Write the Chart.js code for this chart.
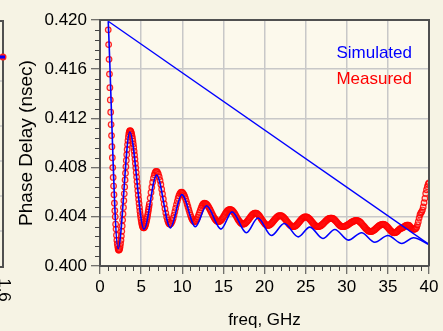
<!DOCTYPE html>
<html>
<head>
<meta charset="utf-8">
<script src="https://cdn.jsdelivr.net/npm/chart.js@4.4.1/dist/chart.umd.min.js"></script>
<style>
  html, body { margin: 0; padding: 0; background: #f6f3e4; }
</style>
</head>
<body>
<canvas id="phase" width="443" height="331"></canvas>
<script>
// simulated phase delay: turning points of the trace, freq in GHz, delay in nsec
const simFreq = [1.0, 2.2, 3.62, 5.35, 6.88, 8.55, 9.95, 11.6, 12.95, 14.7, 16.06, 17.8, 19.2,
  20.85, 22.4, 24.1, 25.5, 27.1, 28.55, 30.2, 31.8, 33.4, 35.0, 36.7, 38.1, 40.0]
const simDelay = [0.4199, 0.4014, 0.4109, 0.4030, 0.4074, 0.4031, 0.4058, 0.4032, 0.4049, 0.4030,
  0.4044, 0.4027, 0.4039, 0.40248, 0.40346, 0.40237, 0.40316, 0.40224, 0.40297, 0.40210,
  0.40270, 0.40193, 0.40248, 0.40183, 0.40230, 0.40175]

// measured sweep, 1.00 - 5.95 GHz every 0.05 GHz
const measFineStart = 1.0
const measFineStep = 0.05
const measDelayFine = [
  0.41920, 0.41800, 0.41680, 0.41560, 0.41450, 0.41350, 0.41250, 0.41150, 0.41060, 0.40970,
  0.40880, 0.40800, 0.40720, 0.40650, 0.40580, 0.40510, 0.40450, 0.40400, 0.40340, 0.40300,
  0.40250, 0.40210, 0.40180, 0.40160, 0.40140, 0.40130, 0.40130, 0.40133, 0.40143, 0.40159,
  0.40182, 0.40210, 0.40243, 0.40282, 0.40325, 0.40373, 0.40423, 0.40476, 0.40531, 0.40587,
  0.40643, 0.40699, 0.40754, 0.40807, 0.40858, 0.40905, 0.40948, 0.40987, 0.41020, 0.41048,
  0.41071, 0.41087, 0.41097, 0.41100, 0.41098, 0.41093, 0.41084, 0.41072, 0.41056, 0.41037,
  0.41016, 0.40991, 0.40964, 0.40934, 0.40903, 0.40869, 0.40834, 0.40798, 0.40761, 0.40724,
  0.40686, 0.40649, 0.40612, 0.40576, 0.40541, 0.40508, 0.40476, 0.40446, 0.40419, 0.40395,
  0.40373, 0.40354, 0.40338, 0.40326, 0.40317, 0.40312, 0.40310, 0.40311, 0.40315, 0.40321,
  0.40329, 0.40339, 0.40351, 0.40365, 0.40382, 0.40399, 0.40418, 0.40439, 0.40460, 0.40482
]

// measured sweep, 6.0 - 40.0 GHz every 0.1 GHz
const measCoarseStart = 6.0
const measCoarseStep = 0.1
const measDelayCoarse = [
  0.40505, 0.40552, 0.40598, 0.40641, 0.40681, 0.40714, 0.40741, 0.40759, 0.40769, 0.40769,
  0.40761, 0.40746, 0.40724, 0.40696, 0.40663, 0.40625, 0.40586, 0.40545, 0.40504, 0.40466,
  0.40430, 0.40399, 0.40374, 0.40355, 0.40344, 0.40340, 0.40343, 0.40353, 0.40368, 0.40389,
  0.40414, 0.40441, 0.40470, 0.40499, 0.40526, 0.40551, 0.40572, 0.40587, 0.40597, 0.40600,
  0.40598, 0.40591, 0.40580, 0.40565, 0.40547, 0.40526, 0.40503, 0.40480, 0.40457, 0.40434,
  0.40413, 0.40395, 0.40380, 0.40369, 0.40362, 0.40360, 0.40363, 0.40370, 0.40382, 0.40398,
  0.40416, 0.40435, 0.40454, 0.40472, 0.40488, 0.40500, 0.40507, 0.40510, 0.40509, 0.40505,
  0.40499, 0.40490, 0.40480, 0.40468, 0.40456, 0.40442, 0.40428, 0.40414, 0.40402, 0.40390,
  0.40380, 0.40371, 0.40365, 0.40361, 0.40360, 0.40361, 0.40365, 0.40371, 0.40379, 0.40388,
  0.40399, 0.40410, 0.40421, 0.40432, 0.40441, 0.40449, 0.40455, 0.40459, 0.40460, 0.40459,
  0.40455, 0.40450, 0.40442, 0.40433, 0.40423, 0.40412, 0.40400, 0.40388, 0.40377, 0.40367,
  0.40358, 0.40350, 0.40345, 0.40341, 0.40340, 0.40341, 0.40344, 0.40349, 0.40355, 0.40363,
  0.40371, 0.40380, 0.40390, 0.40399, 0.40408, 0.40415, 0.40421, 0.40426, 0.40429, 0.40430,
  0.40429, 0.40426, 0.40420, 0.40413, 0.40405, 0.40395, 0.40385, 0.40375, 0.40365, 0.40355,
  0.40347, 0.40340, 0.40335, 0.40331, 0.40330, 0.40331, 0.40333, 0.40338, 0.40343, 0.40350,
  0.40358, 0.40366, 0.40374, 0.40382, 0.40390, 0.40397, 0.40402, 0.40407, 0.40409, 0.40410,
  0.40409, 0.40407, 0.40402, 0.40397, 0.40390, 0.40382, 0.40374, 0.40365, 0.40356, 0.40348,
  0.40340, 0.40333, 0.40328, 0.40323, 0.40321, 0.40320, 0.40321, 0.40323, 0.40328, 0.40333,
  0.40340, 0.40348, 0.40356, 0.40364, 0.40372, 0.40380, 0.40387, 0.40392, 0.40397, 0.40399,
  0.40400, 0.40399, 0.40397, 0.40392, 0.40387, 0.40380, 0.40372, 0.40364, 0.40356, 0.40348,
  0.40340, 0.40333, 0.40328, 0.40323, 0.40321, 0.40320, 0.40321, 0.40323, 0.40326, 0.40330,
  0.40336, 0.40342, 0.40348, 0.40355, 0.40362, 0.40368, 0.40374, 0.40380, 0.40384, 0.40387,
  0.40389, 0.40390, 0.40389, 0.40387, 0.40382, 0.40377, 0.40370, 0.40363, 0.40355, 0.40347,
  0.40340, 0.40333, 0.40328, 0.40323, 0.40321, 0.40320, 0.40320, 0.40322, 0.40324, 0.40327,
  0.40330, 0.40334, 0.40338, 0.40343, 0.40347, 0.40352, 0.40356, 0.40360, 0.40363, 0.40366,
  0.40368, 0.40370, 0.40370, 0.40369, 0.40367, 0.40363, 0.40358, 0.40352, 0.40345, 0.40337,
  0.40329, 0.40321, 0.40313, 0.40305, 0.40298, 0.40292, 0.40287, 0.40283, 0.40281, 0.40280,
  0.40281, 0.40283, 0.40286, 0.40290, 0.40295, 0.40301, 0.40307, 0.40313, 0.40319, 0.40325,
  0.40330, 0.40334, 0.40337, 0.40339, 0.40340, 0.40339, 0.40337, 0.40332, 0.40327, 0.40320,
  0.40313, 0.40305, 0.40297, 0.40290, 0.40283, 0.40278, 0.40273, 0.40271, 0.40270, 0.40271,
  0.40274, 0.40279, 0.40285, 0.40292, 0.40298, 0.40303, 0.40306, 0.40308, 0.40311, 0.40315,
  0.40320, 0.40325, 0.40329, 0.40332, 0.40333, 0.40332, 0.40328, 0.40320, 0.40312, 0.40305,
  0.40301, 0.40299, 0.40298, 0.40300, 0.40305, 0.40315, 0.40335, 0.40360, 0.40390, 0.40415,
  0.40430, 0.40440, 0.40455, 0.40480, 0.40515, 0.40550, 0.40590, 0.40620, 0.40645, 0.40665,
  0.40676
]

const xTicks = [0, 5, 10, 15, 20, 25, 30, 35, 40]
const yTicks = [0.400, 0.404, 0.408, 0.412, 0.416, 0.420]
const legendItems = [
  { text: 'Simulated', color: '#0000ff' },
  { text: 'Measured', color: '#ff0000' },
]

const FONT = '"Liberation Sans", Arial, sans-serif'

const sweep = (start, step, values) =>
  values.map((v, i) => ({ x: +(start + i * step).toFixed(2), y: v }))

const measured = sweep(measFineStart, measFineStep, measDelayFine)
  .concat(sweep(measCoarseStart, measCoarseStep, measDelayCoarse))
const simulated = simFreq.map((f, i) => ({ x: f, y: simDelay[i] }))
const last = simFreq.length - 1
// the trace jumps from its last sample back to the first
const wrap = [{ x: simFreq[last], y: simDelay[last] }, { x: simFreq[0], y: simDelay[0] }]

const decor = {
  id: 'decor',
  beforeDraw(chart) {
    const { ctx, chartArea: a } = chart
    ctx.save()
    ctx.fillStyle = '#f6f3e4'
    ctx.fillRect(0, 0, chart.width, chart.height)
    ctx.fillStyle = '#fcf9ec'
    ctx.fillRect(a.left, a.top, a.right - a.left, a.bottom - a.top)
    ctx.restore()
  },
  afterDraw(chart) {
    const { ctx, chartArea: a, scales: { x, y } } = chart
    ctx.save()
    // minor ticks
    ctx.strokeStyle = '#444'
    ctx.lineWidth = 1
    ctx.beginPath()
    for (let f = 1; f < 40; f++) {
      if (f % 5 === 0) continue
      const px = Math.round(x.getPixelForValue(f)) + 0.5
      ctx.moveTo(px, a.bottom)
      ctx.lineTo(px, a.bottom + 5)
    }
    for (let i = 1; i < 25; i++) {
      if (i % 5 === 0) continue
      const py = Math.round(y.getPixelForValue(0.4 + i * 0.0008)) + 0.5
      ctx.moveTo(a.left, py)
      ctx.lineTo(a.left - 5, py)
    }
    ctx.stroke()
    // frame top / right
    ctx.strokeStyle = '#505050'
    ctx.lineWidth = 2
    ctx.beginPath()
    ctx.moveTo(a.left, a.top)
    ctx.lineTo(a.right, a.top)
    ctx.lineTo(a.right, a.bottom)
    ctx.stroke()
    // legend
    ctx.font = '17px ' + FONT
    ctx.textAlign = 'right'
    ctx.textBaseline = 'alphabetic'
    legendItems.forEach((it, i) => {
      ctx.fillStyle = it.color
      ctx.fillText(it.text, 412, 58 + i * 25.5)
    })
    // edge of the neighbouring plot
    ctx.strokeStyle = '#c8c8c8'
    ctx.lineWidth = 1.5
    ctx.beginPath()
    ;[81, 126, 161, 196, 231].forEach(py => { ctx.moveTo(0, py); ctx.lineTo(3, py) })
    ctx.stroke()
    ctx.strokeStyle = '#505050'
    ctx.lineWidth = 2
    ctx.beginPath()
    ctx.moveTo(0, 21); ctx.lineTo(3, 21); ctx.lineTo(3, 267); ctx.lineTo(0, 267)
    ctx.stroke()
    ctx.fillStyle = '#ff2020'
    ctx.beginPath(); ctx.arc(3, 57, 3.5, 0, Math.PI * 2); ctx.fill()
    ctx.fillStyle = '#0000ff'
    ctx.fillRect(0, 55.5, 5, 3)
    ctx.translate(4, 290)
    ctx.rotate(Math.PI / 2)
    ctx.fillStyle = '#000'
    ctx.textAlign = 'center'
    ctx.textBaseline = 'middle'
    ctx.fillText('1.6', 0, 0)
    ctx.restore()
  }
}

new Chart(document.getElementById('phase'), {
  type: 'scatter',
  data: {
    datasets: [
      {
        label: 'Simulated',
        data: simulated,
        showLine: true,
        borderColor: '#0000ff',
        borderWidth: 1.6,
        pointRadius: 0,
        cubicInterpolationMode: 'monotone',
      },
      {
        label: 'Simulated wrap',
        data: wrap,
        showLine: true,
        borderColor: '#0000ff',
        borderWidth: 1.4,
        pointRadius: 0,
      },
      {
        label: 'Measured',
        data: measured,
        showLine: false,
        pointRadius: 2.8,
        pointBorderWidth: 1.2,
        pointBorderColor: 'rgba(255,0,0,0.85)',
        pointBackgroundColor: 'rgba(255,90,90,0.18)',
      },
    ],
  },
  options: {
    responsive: false,
    animation: false,
    layout: { padding: { left: 0, top: 20, right: 14, bottom: 0 } },
    plugins: {
      legend: { display: false },
      tooltip: { enabled: false },
    },
    scales: {
      x: {
        type: 'linear',
        min: 0,
        max: 40,
        afterBuildTicks: s => { s.ticks = xTicks.map(v => ({ value: v })) },
        afterFit: s => { s.height = 65; s.paddingLeft = 0; s.paddingRight = 0 },
        ticks: { color: '#000', font: { family: FONT, size: 17 }, padding: 3, maxRotation: 0, autoSkip: false },
        grid: { color: '#c8c8c8', lineWidth: 1.5, tickColor: '#444', tickLength: 8, tickWidth: 1 },
        border: { color: '#505050', width: 2 },
        title: { display: true, text: 'freq, GHz', color: '#000', font: { family: FONT, size: 17 }, padding: { top: 0, bottom: 0 } },
      },
      y: {
        type: 'linear',
        min: 0.400,
        max: 0.420,
        afterBuildTicks: s => { s.ticks = yTicks.map(v => ({ value: v })) },
        afterFit: s => { s.width = 100; s.paddingTop = 0; s.paddingBottom = 0 },
        ticks: { color: '#000', font: { family: FONT, size: 17 }, padding: 4, callback: v => v.toFixed(3) },
        grid: { color: '#c8c8c8', lineWidth: 1.5, tickColor: '#444', tickLength: 9, tickWidth: 1 },
        border: { color: '#505050', width: 2 },
        title: { display: true, text: 'Phase Delay (nsec)', color: '#000', font: { family: FONT, size: 19 }, padding: { top: 15, bottom: 0 } },
      },
    },
  },
  plugins: [decor],
})
</script>
</body>
</html>
